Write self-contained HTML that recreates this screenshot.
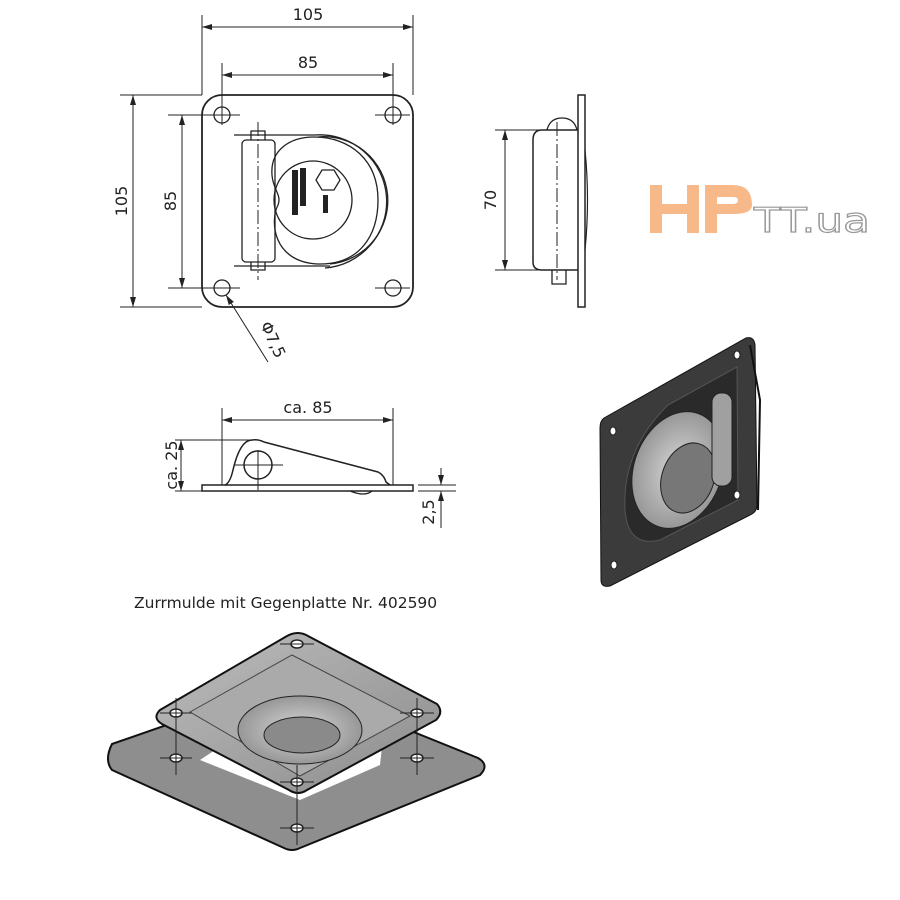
<!DOCTYPE html>
<html><head><meta charset="utf-8"><style>
html,body{margin:0;padding:0;background:#fff}
svg{display:block}
text{font-family:"DejaVu Sans","Liberation Sans",sans-serif}
</style></head><body>
<svg width="900" height="900" viewBox="0 0 900 900" xmlns="http://www.w3.org/2000/svg">
<defs>
<marker id="a" viewBox="0 0 10 6" refX="10" refY="3" markerWidth="10" markerHeight="6" orient="auto-start-reverse" markerUnits="userSpaceOnUse"><path d="M0,0 L10,3 L0,6 z" fill="#222"/></marker>
<radialGradient id="g1" cx="0.5" cy="0.5" r="0.6"><stop offset="0" stop-color="#d8d8d8"/><stop offset="1" stop-color="#8a8a8a"/></radialGradient>
<linearGradient id="g2" x1="0" y1="0" x2="1" y2="1"><stop offset="0" stop-color="#bdbdbd"/><stop offset="1" stop-color="#8c8c8c"/></linearGradient>
</defs>
<g stroke="#222" fill="none" stroke-width="1">
<!-- TOP VIEW -->
<rect x="202" y="95" width="211" height="212" rx="20" stroke-width="1.8"/>
<g stroke-width="1.3"><circle cx="222" cy="115" r="8"/><circle cx="393" cy="115" r="8"/><circle cx="222" cy="288" r="8"/><circle cx="393" cy="288" r="8"/></g>
<path d="M168 115H240M375 115H410M168 288H240M375 288H410M222 63V125M393 63V125M202 15V95M413 15V95M120 95H202M120 307H202"/>
<line x1="202" y1="27" x2="413" y2="27" marker-start="url(#a)" marker-end="url(#a)"/>
<line x1="222" y1="75" x2="393" y2="75" marker-start="url(#a)" marker-end="url(#a)"/>
<line x1="133" y1="95" x2="133" y2="307" marker-start="url(#a)" marker-end="url(#a)"/>
<line x1="182" y1="115" x2="182" y2="288" marker-start="url(#a)" marker-end="url(#a)"/>
<line x1="268" y1="362" x2="226" y2="295" marker-end="url(#a)"/>
<g stroke-width="1.3">
<rect x="242" y="140" width="33" height="122" rx="4"/>
<path d="M251 140V131H265V140M251 262V270H265V262"/>
<path d="M234 135H315M234 266H330"/>
<path d="M315 135 A66 66 0 0 1 325 268" />
<path d="M318 137 A62 62 0 0 1 330 264"/>
<path d="M314 137 C290 137 270 150 272 175 C273 190 282 195 278 205 C270 220 272 262 318 264 C360 265 378 235 378 200 C378 160 350 137 314 137Z"/>
<circle cx="313" cy="200" r="39"/>
<polygon points="322,170 334,170 340,180 334,190 322,190 316,180"/>
</g>
<path d="M258 122V280" stroke-dasharray="14,3,2,3"/>
<!-- SIDE VIEW -->
<rect x="578" y="95" width="7" height="212" stroke-width="1.5"/>
<path d="M578 130H542Q533 130 533 140V262Q533 270 542 270H578" stroke-width="1.5"/>
<path d="M547 130Q550 118 562 118Q574 118 577 130" stroke-width="1.3"/>
<path d="M552 270V284H566V270" stroke-width="1.3"/>
<path d="M585 150Q590 200 585 250" stroke-width="1.2"/>
<path d="M557 122V280" stroke-dasharray="14,3,2,3"/>
<path d="M495 130H540M495 270H540"/>
<line x1="505" y1="130" x2="505" y2="270" marker-start="url(#a)" marker-end="url(#a)"/>
<!-- FRONT VIEW -->
<rect x="202" y="485" width="211" height="6" stroke-width="1.5"/>
<path d="M225 485Q230 483 233 470Q240 440 252 440Q258 439 264 442L378 472Q384 475 386 482L390 485" stroke-width="1.5"/>
<circle cx="258" cy="465" r="14" stroke-width="1.5"/>
<path d="M235 465H283M258 450V490"/>
<path d="M350 491Q365 497 372 491" stroke-width="1.3"/>
<path d="M222 408V485M393 408V485M175 440H250M175 491H202M418 485H456M418 491H456M441 470V485M441 491V528"/>
<line x1="222" y1="420" x2="393" y2="420" marker-start="url(#a)" marker-end="url(#a)"/>
<line x1="181" y1="440" x2="181" y2="491" marker-start="url(#a)" marker-end="url(#a)"/>
<line x1="441" y1="468" x2="441" y2="485" marker-end="url(#a)"/>
<line x1="441" y1="510" x2="441" y2="491" marker-end="url(#a)"/>
</g>
<g font-size="16" text-anchor="middle" fill="#222">
<text x="308" y="20">105</text>
<text x="308" y="68">85</text>
<text transform="translate(127,201) rotate(-90)">105</text>
<text transform="translate(176,201) rotate(-90)">85</text>
<text transform="translate(496,200) rotate(-90)">70</text>
<text transform="translate(268,342) rotate(65)">Φ7,5</text>
<text x="308" y="413">ca. 85</text>
<text transform="translate(177,465) rotate(-90)">ca. 25</text>
<text transform="translate(434,512) rotate(-90)">2,5</text>
</g>
<text x="134" y="608" font-size="15.5" fill="#222">Zurrmulde mit Gegenplatte Nr. 402590</text>
<g fill="#222"><rect x="292" y="170" width="6" height="45"/><rect x="300" y="168" width="6" height="38"/><rect x="323" y="195" width="5" height="18"/></g>
<!-- LOGO -->
<g fill="#f8b98a">
<rect x="650" y="185" width="12" height="48"/>
<rect x="662" y="204" width="25" height="10"/>
<rect x="687" y="185" width="12" height="48"/>
<path d="M705 185H733Q752 185 752 205Q752 214 733 214H717V233H705Z M717 197V204H733Q738 204 738 200Q738 197 733 197Z" fill-rule="evenodd"/>
</g>
<text x="754" y="232" font-size="34" style="fill:none;stroke:#999;stroke-width:1.2" textLength="116" lengthAdjust="spacingAndGlyphs" font-family="Liberation Sans,sans-serif">TT.ua</text>
<!-- 3D RIGHT -->
<path d="M604 418L746 338Q754 336 755 345L757 505Q757 512 750 515L610 586Q601 588 601 580L600 428Q600 421 604 418Z" fill="#3b3b3b" stroke="#111"/>
<path d="M750 345L760 400L758 510" stroke="#111" fill="none" stroke-width="2"/>
<path d="M668 405L737 367L738 500L660 540Q628 548 625 510Q622 450 668 405Z" fill="#2a2a2a" stroke="#555"/>
<ellipse cx="678" cy="470" rx="44" ry="60" transform="rotate(20 678 470)" fill="url(#g1)" stroke="#222"/>
<ellipse cx="688" cy="478" rx="26" ry="36" transform="rotate(20 688 478)" fill="#777" stroke="#222"/>
<rect x="712" y="393" width="20" height="93" rx="9" fill="#a0a0a0" stroke="#222"/>
<g fill="#fff" stroke="#222"><ellipse cx="613" cy="431" rx="3" ry="4"/><ellipse cx="737" cy="355" rx="3" ry="4"/><ellipse cx="737" cy="495" rx="3" ry="4"/><ellipse cx="614" cy="565" rx="3" ry="4"/></g>
<!-- 3D BOTTOM -->
<path d="M112 744L290 682L478 758Q490 765 480 775L300 848Q292 852 284 848L112 770Q104 760 112 744Z" fill="#8e8e8e" stroke="#111" stroke-width="2"/>
<path d="M200 760L300 800L380 765L385 720L230 740Z" fill="#fff"/>
<path d="M160 710L287 636Q298 630 308 636L437 704Q444 712 436 720L307 790Q298 796 289 790L162 724Q152 718 160 710Z" fill="url(#g2)" stroke="#111" stroke-width="2"/>
<path d="M190 712L292 655L410 716L300 776Z" fill="#aaa" stroke="#444"/>
<ellipse cx="300" cy="730" rx="62" ry="34" fill="url(#g1)" stroke="#222"/>
<ellipse cx="302" cy="735" rx="38" ry="18" fill="#8a8a8a" stroke="#222"/>
<g fill="#fff" stroke="#222" stroke-width="1.5"><ellipse cx="297" cy="644" rx="6" ry="4"/><ellipse cx="176" cy="713" rx="6" ry="4"/><ellipse cx="417" cy="713" rx="6" ry="4"/><ellipse cx="176" cy="758" rx="6" ry="4"/><ellipse cx="417" cy="758" rx="6" ry="4"/><ellipse cx="297" cy="782" rx="6" ry="4"/><ellipse cx="297" cy="828" rx="6" ry="4"/></g>
<g stroke="#222" stroke-width="1"><path d="M280 644H314M176 698V775M160 713H192M160 758H192M417 698V775M400 713H434M400 758H434M297 765V845M280 782H314M280 828H314"/></g>
</svg>
</body></html>
